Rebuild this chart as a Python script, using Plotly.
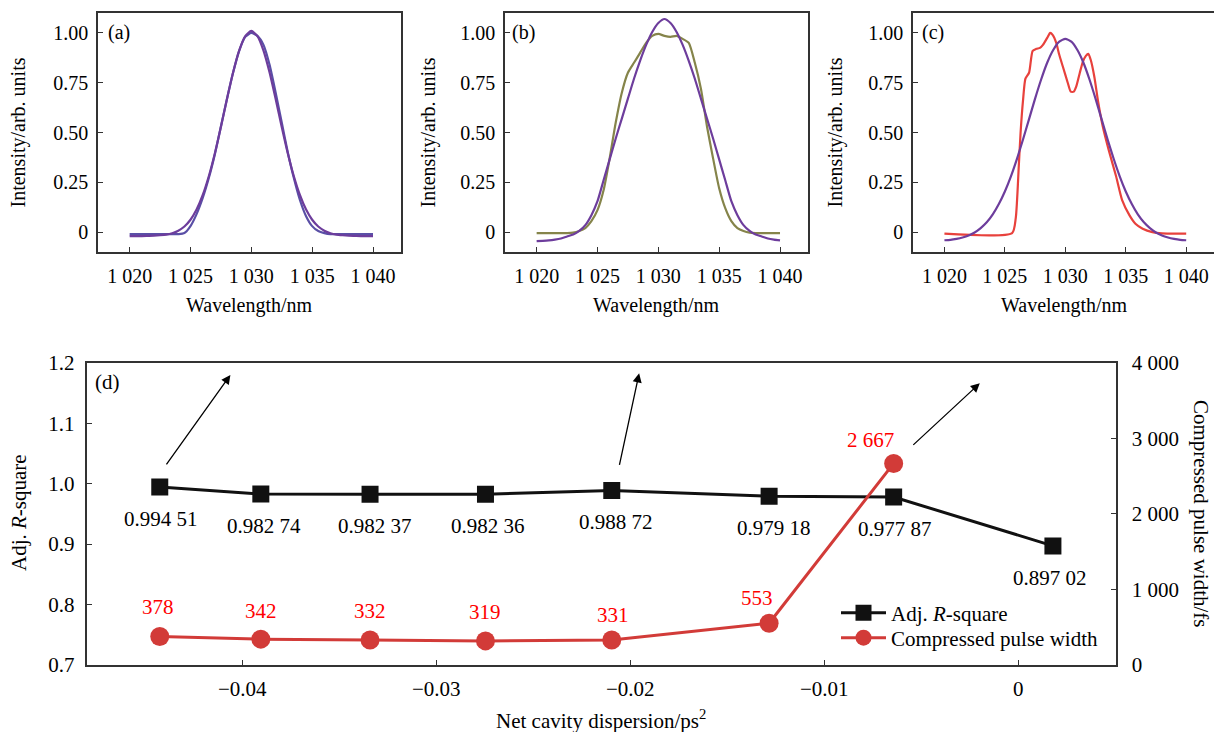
import plotly.graph_objects as go

# ---------------- data: top panels (spectra) ----------------
wl = [1020 + 0.5 * i for i in range(41)]  # 1020 ... 1040 nm

meas_a = [-0.01, -0.01, -0.01, -0.01, -0.01, -0.01, -0.01, -0.01, -0.01, -0.005,
          0.03, 0.09, 0.17, 0.27, 0.39, 0.53, 0.67, 0.80, 0.91, 0.98,
          1.00, 0.985, 0.94, 0.84, 0.70, 0.55, 0.40, 0.27, 0.16, 0.08,
          0.03, 0.005, -0.005, -0.01, -0.01, -0.01, -0.01, -0.01, -0.01, -0.01, -0.01]
fit_a = [-0.02, -0.02, -0.02, -0.019, -0.018, -0.016, -0.013, -0.006, 0.007, 0.028,
         0.062, 0.113, 0.185, 0.279, 0.395, 0.528, 0.668, 0.801, 0.911, 0.984,
         1.01, 0.984, 0.911, 0.801, 0.668, 0.528, 0.395, 0.279, 0.185, 0.113,
         0.062, 0.028, 0.007, -0.006, -0.013, -0.016, -0.018, -0.019, -0.02, -0.02, -0.02]

meas_b = [-0.005, -0.005, -0.005, -0.005, -0.005, -0.005, -0.003, 0.005, 0.02, 0.055,
          0.11, 0.21, 0.37, 0.55, 0.70, 0.80, 0.85, 0.90, 0.95, 0.985,
          0.995, 0.985, 0.98, 0.985, 0.97, 0.95, 0.85, 0.72, 0.53, 0.37,
          0.22, 0.12, 0.055, 0.02, 0.005, -0.003, -0.005, -0.005, -0.005, -0.005, -0.005]
fit_b = [-0.045, -0.044, -0.042, -0.038, -0.032, -0.022, -0.012, 0.006, 0.035, 0.085,
         0.155, 0.26, 0.365, 0.47, 0.57, 0.67, 0.77, 0.86, 0.94, 1.005,
         1.05, 1.07, 1.05, 1.005, 0.94, 0.86, 0.77, 0.67, 0.57, 0.47,
         0.365, 0.26, 0.155, 0.085, 0.035, 0.006, -0.012, -0.022, -0.032, -0.038, -0.042]

wl_c_meas = [1020, 1025.6, 1025.9, 1026.15, 1026.3, 1026.5, 1026.7, 1027.0, 1027.3, 1027.6,
             1027.9, 1028.15, 1028.5, 1028.75, 1028.95, 1029.25, 1029.5, 1029.8, 1030.2, 1030.45,
             1030.7, 1030.9, 1031.2, 1031.45, 1031.7, 1031.9, 1032.1, 1032.4, 1032.7, 1033.1,
             1033.6, 1034.2, 1034.7, 1035.3, 1035.8, 1036.4, 1037.2, 1038.0, 1040]
meas_c = [-0.008, -0.005, 0.07, 0.33, 0.50, 0.66, 0.77, 0.80, 0.91, 0.92,
          0.925, 0.94, 0.975, 1.00, 0.99, 0.95, 0.89, 0.83, 0.75, 0.705,
          0.705, 0.73, 0.80, 0.855, 0.885, 0.895, 0.865, 0.78, 0.66, 0.53,
          0.41, 0.28, 0.16, 0.085, 0.042, 0.017, 0.0, -0.006, -0.008]
fit_c = [-0.041, -0.039, -0.034, -0.027, -0.017, -0.002, 0.020, 0.049, 0.089, 0.141,
         0.204, 0.280, 0.368, 0.465, 0.567, 0.670, 0.766, 0.850, 0.914, 0.956,
         0.970, 0.956, 0.914, 0.850, 0.766, 0.670, 0.567, 0.465, 0.368, 0.280,
         0.204, 0.141, 0.089, 0.049, 0.020, -0.002, -0.017, -0.027, -0.034, -0.039, -0.041]

# ---------------- data: bottom panel ----------------
dispersion = [-0.04425, -0.03904, -0.03341, -0.02746, -0.02095, -0.01284, -0.00642, 0.00179]
adj_r2 = [0.99451, 0.98274, 0.98237, 0.98236, 0.98872, 0.97918, 0.97787, 0.89702]
adj_r2_labels = ["0.994 51", "0.982 74", "0.982 37", "0.982 36", "0.988 72", "0.979 18", "0.977 87", "0.897 02"]
pulse_width = [378, 342, 332, 319, 331, 553, 2667]
pulse_labels = ["378", "342", "332", "319", "331", "553", "2 667"]

wl_ticks = [1020, 1025, 1030, 1035, 1040]
wl_ticktext = ["1 020", "1 025", "1 030", "1 035", "1 040"]
int_ticks = [0, 0.25, 0.5, 0.75, 1.0]
int_ticktext = ["0", "0.25", "0.50", "0.75", "1.00"]
disp_ticks = [-0.04, -0.03, -0.02, -0.01, 0]
disp_ticktext = ["\u22120.04", "\u22120.03", "\u22120.02", "\u22120.01", "0"]
r2_ticks = [0.7, 0.8, 0.9, 1.0, 1.1, 1.2]
r2_ticktext = ["0.7", "0.8", "0.9", "1.0", "1.1", "1.2"]
pw_ticks = [0, 1000, 2000, 3000, 4000]
pw_ticktext = ["0", "1 000", "2 000", "3 000", "4 000"]

# ---------------- styling ----------------
W, H = 1214, 732
FONT = "Liberation Serif"
AX = "#333333"
C_A_MEAS = "#5a4fa6"
C_PURPLE = "#6d3d9c"
C_OLIVE = "#85844a"
C_RED = "#e8413c"
C_BLACK = "#111111"
C_DOT = "#d23b38"


def px(x):
    return x / W


def py(y):
    return 1 - y / H


fig = go.Figure()

top_panels = [
    ("x", "y", wl, meas_a, C_A_MEAS, wl, fit_a),
    ("x2", "y2", wl, meas_b, C_OLIVE, wl, fit_b),
    ("x3", "y3", wl_c_meas, meas_c, C_RED, wl, fit_c),
]
for xa, ya, xm, ym, cm, xf, yf in top_panels:
    fig.add_trace(go.Scatter(x=xm, y=ym, mode="lines", line=dict(color=cm, width=2.2, shape="spline", smoothing=0.6),
                             xaxis=xa, yaxis=ya, showlegend=False))
    fig.add_trace(go.Scatter(x=xf, y=yf, mode="lines", line=dict(color=C_PURPLE, width=2.2, shape="spline", smoothing=0.6),
                             xaxis=xa, yaxis=ya, showlegend=False))

fig.add_trace(go.Scatter(x=dispersion, y=adj_r2, mode="lines+markers", name="Adj. <i>R</i>-square",
                         line=dict(color=C_BLACK, width=3),
                         marker=dict(symbol="square", size=17, color=C_BLACK),
                         xaxis="x4", yaxis="y4", legend="legend"))
fig.add_trace(go.Scatter(x=dispersion[:len(pulse_width)], y=pulse_width, mode="lines+markers",
                         name="Compressed pulse width",
                         line=dict(color=C_DOT, width=3),
                         marker=dict(symbol="circle", size=19, color=C_DOT),
                         xaxis="x4", yaxis="y5", legend="legend2"))

tickfont_top = dict(family=FONT, size=20, color="black")
tickfont_bot = dict(family=FONT, size=21, color="black")
common = dict(showline=True, linecolor=AX, linewidth=1.5, ticks="inside", ticklen=5, tickwidth=1.2,
              tickcolor=AX, showgrid=False, zeroline=False, automargin=False)

legend_common = dict(x=px(836), xanchor="left", yanchor="middle", bgcolor="rgba(0,0,0,0)",
                     font=dict(family=FONT, size=21, color="black"), tracegroupgap=0, itemwidth=45,
                     borderwidth=0)

top_x_domains = [(98, 401), (505, 808), (913, 1214)]
top_y_domain = [py(252), py(13)]
layout = dict(
    width=W, height=H, margin=dict(l=0, r=0, t=0, b=0),
    paper_bgcolor="white", plot_bgcolor="white",
    font=dict(family=FONT, color="black"),
    showlegend=True,
    legend=dict(legend_common, y=py(613)),
    legend2=dict(legend_common, y=py(638)),
)
for i, (l, r) in enumerate(top_x_domains):
    sfx = "" if i == 0 else str(i + 1)
    rng = [1017.4, 1042.3]
    layout["xaxis" + sfx] = dict(common, domain=[px(l), min(1.0, px(r))], range=rng, anchor="y" + sfx,
                                 tickvals=wl_ticks, ticktext=wl_ticktext, tickfont=tickfont_top,
                                 mirror=True, ticklabelstandoff=5)
    layout["yaxis" + sfx] = dict(common, domain=top_y_domain, range=[-0.1, 1.1], anchor="x" + sfx,
                                 tickvals=int_ticks, ticktext=int_ticktext, tickfont=tickfont_top,
                                 mirror=True, ticklabelstandoff=4)

d_l, d_r, d_t, d_b = 87.4, 1115.7, 362.7, 665
layout["xaxis4"] = dict(common, domain=[px(d_l), px(d_r)], range=[-0.04798, 0.005026], anchor="y4",
                        tickvals=disp_ticks, ticktext=disp_ticktext, tickfont=tickfont_bot,
                        mirror=True, ticklabelstandoff=4)
layout["yaxis4"] = dict(common, domain=[py(d_b), py(d_t)], range=[0.7, 1.2], anchor="x4",
                        tickvals=r2_ticks, ticktext=r2_ticktext, tickfont=tickfont_bot,
                        mirror=True, ticklabelstandoff=7)
layout["yaxis5"] = dict(common, range=[0, 4000], overlaying="y4", side="right", anchor="x4",
                        tickvals=pw_ticks, ticktext=pw_ticktext, tickfont=tickfont_bot,
                        ticklabelstandoff=10)
fig.update_layout(**layout)

ann = []
title_font_top = dict(family=FONT, size=20, color="black")
title_font_bot = dict(family=FONT, size=21, color="black")
for xc, xt, lab, lx in [(18, 249.5, "(a)", 106), (428, 656.5, "(b)", 510), (835, 1064, "(c)", 920)]:
    ann.append(dict(text="Intensity/arb. units", x=px(xc), y=py(132.5), xref="paper", yref="paper",
                    textangle=-90, showarrow=False, font=title_font_top, xanchor="center", yanchor="middle"))
    ann.append(dict(text="Wavelength/nm", x=px(xt), y=py(305), xref="paper", yref="paper",
                    showarrow=False, font=title_font_top, xanchor="center", yanchor="middle"))
    ann.append(dict(text=lab, x=px(lx), y=py(33), xref="paper", yref="paper",
                    showarrow=False, font=title_font_top, xanchor="left", yanchor="middle"))

ann.append(dict(text="(d)", x=px(93), y=py(382), xref="paper", yref="paper",
                showarrow=False, font=title_font_bot, xanchor="left", yanchor="middle"))
ann.append(dict(text="Adj. <i>R</i>-square", x=px(19), y=py(513), xref="paper", yref="paper",
                textangle=-90, showarrow=False, font=title_font_bot, xanchor="center", yanchor="middle"))
ann.append(dict(text="Compressed pulse width/fs", x=px(1201), y=py(513), xref="paper", yref="paper",
                textangle=90, showarrow=False, font=title_font_bot, xanchor="center", yanchor="middle"))
ann.append(dict(text="Net cavity dispersion/ps<sup>2</sup>", x=px(601), y=py(719), xref="paper", yref="paper",
                showarrow=False, font=title_font_bot, xanchor="center", yanchor="middle"))

# value labels
r2_xshift = [1, 3, 5, 3, 4, 5, 1, -3]
for xv, yv, t, xs in zip(dispersion, adj_r2, adj_r2_labels, r2_xshift):
    ann.append(dict(text=t, x=xv, y=yv, xref="x4", yref="y4", showarrow=False, yshift=-32, xshift=xs,
                    font=dict(family=FONT, size=21, color="black"), xanchor="center", yanchor="middle"))
pw_xshift = [-2, 0, 0, 0, 1, -12, -23]
pw_yshift = [29, 28, 29, 29, 25, 25, 23]
for xv, yv, t, xs, ys in zip(dispersion, pulse_width, pulse_labels, pw_xshift, pw_yshift):
    ann.append(dict(text=t, x=xv, y=yv, xref="x4", yref="y5", showarrow=False, yshift=ys, xshift=xs,
                    font=dict(family=FONT, size=21, color="#ff0000"), xanchor="center", yanchor="middle"))

# arrows
for hx, hy, ax_, ay_ in [(-0.04061, 1.1797, -65, 91), (-0.01954, 1.1825, -20, 93), (-0.00198, 1.166, -68, 63)]:
    ann.append(dict(text="", x=hx, y=hy, xref="x4", yref="y4", ax=ax_, ay=ay_, showarrow=True,
                    arrowhead=2, arrowsize=1.4, arrowwidth=1.3, arrowcolor="black"))

fig.update_layout(annotations=ann)
fig.write_html("out.html", config={"displayModeBar": False},
               post_script="document.body.style.margin='0px';document.body.style.overflow='hidden';")
